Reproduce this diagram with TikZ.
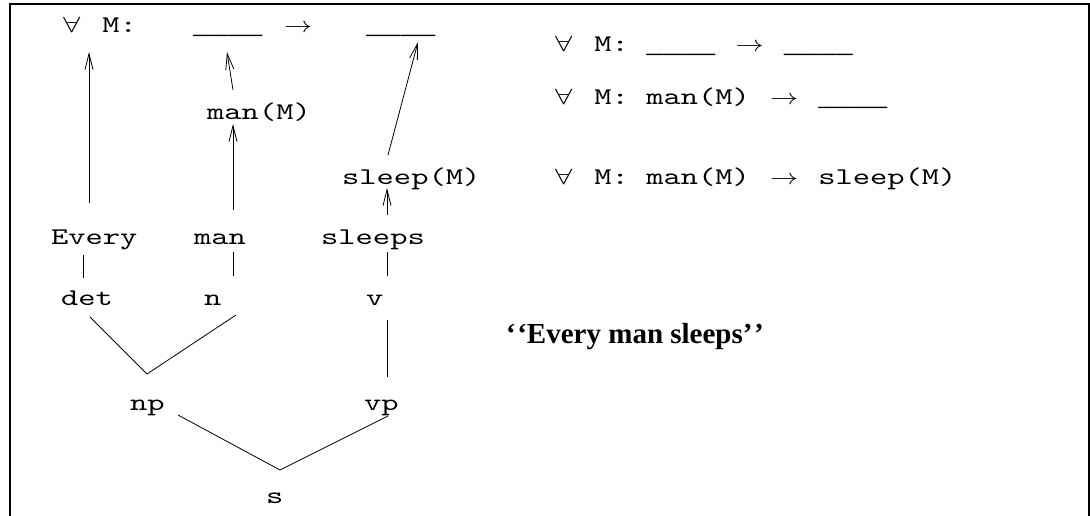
\documentclass[tikz,border=0pt]{standalone}
\usepackage{fontspec}
\usetikzlibrary{arrows.meta,calc}
\newfontfamily\cour{lmmono10-regular}[Extension=.otf,FakeStretch=1.37]
\newfontfamily\blankfont{Liberation Mono}
\newfontfamily\titleserif{Liberation Serif}
\newcommand\FA{\makebox[22pt][l]{\scalebox{3.1}[2.2]{\fontsize{10}{12}\selectfont$\forall$}}}
\newcommand\AR{\makebox[34pt]{\scalebox{2.8}[2.2]{\fontsize{10}{12}\selectfont$\rightarrow$}}}
\newcommand\BL{\raisebox{-1pt}{\fontsize{28.8}{30}\blankfont \_\_\_\_}}
\tikzset{
  lbl/.style={inner sep=0pt, anchor=base west, font={\fontsize{24}{28}\cour}},
  conn/.style={line width=0.8pt},
  arr/.style={conn, -{Straight Barb[length=16pt,width=8pt,line width=0.8pt]}},
  frame/.style={line width=1.3pt},
}
\begin{document}
\begin{tikzpicture}[x=1pt,y=-1pt]
\useasboundingbox (0,0) rectangle (1090,516);
\draw[frame] (10,516) -- (10,4) -- (1089,4) -- (1089,516);
% top formula
\node[lbl] (forall) at (63,33) {\FA{} M:};
\node[lbl] (blankA) at (193,33) {\BL};
\node[lbl] (arrowtop) at (281,33) {\AR};
\node[lbl] (blankB) at (366,33) {\BL};
% semantics
\node[lbl] (manM) at (207,120) {man(M)};
\node[lbl] (sleepM) at (342,185) {sleep(M)};
% words
\node[lbl] (every) at (51,244) {Every};
\node[lbl] (man) at (194,244) {man};
\node[lbl] (sleeps) at (321,244) {sleeps};
% categories
\node[lbl] (det) at (61,305) {det};
\node[lbl] (n) at (204,305) {n};
\node[lbl] (v) at (366,305) {v};
\node[lbl] (np) at (130,410) {np};
\node[lbl] (vp) at (364,410) {vp};
\node[lbl] (s) at (266,503) {s};
% right formulas
\node[lbl] (r1) at (555,52) {\FA{} M: \BL{} \AR{} \BL};
\node[lbl] (r2) at (555,105) {\FA{} M: man(M) \AR{} \BL};
\node[lbl] (r3) at (555,185) {\FA{} M: man(M) \AR{} sleep(M)};
\node[inner sep=0pt, anchor=base west, font={\fontsize{29}{34}\titleserif\bfseries}] (title) at (506,343) {‘\kern1.5pt‘Every man sleeps’\kern1.5pt’};
% arrows
\draw[arr] ($(every.base west)+(38,-41)$) -- ($(forall.base west)+(26,19)$);
\draw[arr] ($(manM.base west)+(26,-30)$) -- ($(blankA.base west)+(34,19)$);
\draw[arr] ($(man.base west)+(39,-34)$) -- ($(manM.base west)+(26,4)$);
\draw[arr] ($(sleepM.base west)+(46,-30)$) -- ($(blankB.base west)+(52,9)$);
\draw[arr] ($(sleeps.base west)+(66,-29)$) -- ($(sleepM.base west)+(45,3)$);
% tree lines
\draw[conn] ($(every.base west)+(32,11)$) -- ($(det.base west)+(22,-27)$);
\draw[conn] ($(man.base west)+(39,8)$) -- ($(n.base west)+(29,-29)$);
\draw[conn] ($(sleeps.base west)+(66,8)$) -- ($(v.base west)+(21,-29)$);
\draw[conn] ($(det.base west)+(29,12)$) -- ($(np.base west)+(17,-36)$) -- ($(n.base west)+(32,10)$);
\draw[conn] ($(v.base west)+(21,15)$) -- ($(vp.base west)+(23,-33)$);
\draw[conn] ($(np.base west)+(48,5)$) -- ($(s.base west)+(14,-33)$) -- ($(vp.base west)+(24,6)$);
\end{tikzpicture}
\end{document}
